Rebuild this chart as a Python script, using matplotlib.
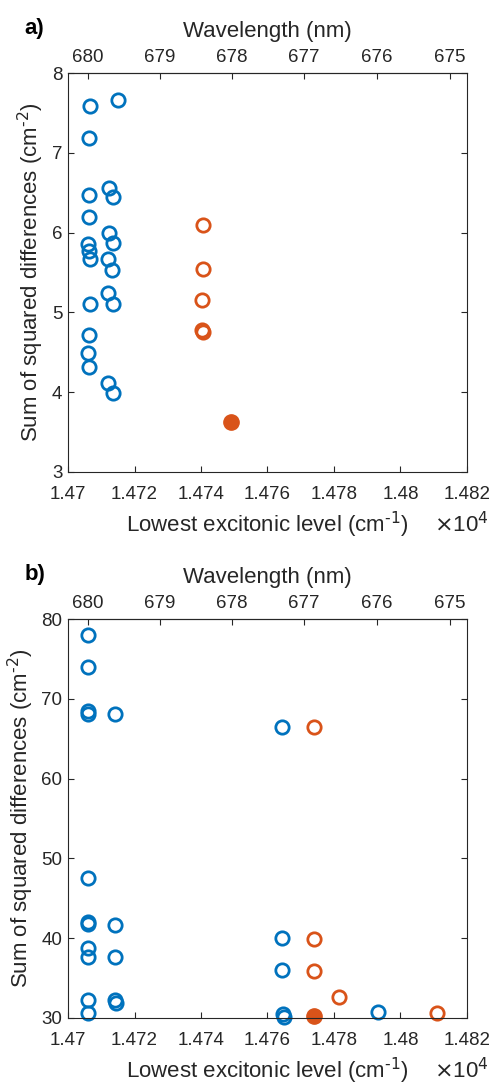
import matplotlib.pyplot as plt
from matplotlib.ticker import FixedLocator, FuncFormatter

plt.rcParams['font.family'] = ['Liberation Sans', 'DejaVu Sans']

# panel a data (x in cm^-1)
a_blue_x = [14706.6, 14714.9, 14706.4, 14712.2, 14706.4, 14713.6, 14706.3, 14712.2,
            14706.1, 14713.6, 14706.2, 14706.6, 14711.9, 14713.3, 14712.1, 14706.6,
            14713.5, 14706.4, 14705.9, 14706.3, 14712.1, 14713.5]
a_blue_y = [7.59, 7.66, 7.19, 6.56, 6.47, 6.45, 6.20, 6.00,
            5.86, 5.87, 5.77, 5.67, 5.67, 5.53, 5.24, 5.11,
            5.11, 4.72, 4.49, 4.32, 4.11, 3.99]
a_orange_x = [14740.5, 14740.6, 14740.4, 14740.4, 14740.5]
a_orange_y = [6.10, 5.54, 5.15, 4.78, 4.76]
a_best_x = [14748.9]
a_best_y = [3.63]

# panel b data
b_blue_x = [14705.9, 14705.9, 14705.9, 14706.1, 14714.2, 14705.9, 14705.9, 14706.1,
            14714.2, 14705.9, 14706.1, 14714.2, 14706.1, 14714.2, 14714.4, 14705.9,
            14764.5, 14764.5, 14764.5, 14764.7, 14765.0, 14793.3]
b_blue_y = [78.03, 73.97, 68.44, 68.15, 68.10, 47.59, 42.00, 41.77,
            41.70, 38.75, 37.70, 37.60, 32.26, 32.20, 31.90, 30.63,
            66.43, 40.00, 35.99, 30.46, 30.16, 30.72]
b_orange_x = [14774.0, 14774.0, 14774.0, 14781.6, 14811.1]
b_orange_y = [66.43, 39.95, 35.90, 32.60, 30.58]
b_best_x = [14774.0]
b_best_y = [30.25]

x_ticks = [14700, 14720, 14740, 14760, 14780, 14800, 14820]
wl_ticks = [680, 679, 678, 677, 676, 675]

blue = '#0072BD'
orange = '#D95319'
axcol = '#262626'

fig = plt.figure(figsize=(4.93, 10.84), dpi=100)

panels = [
    (0.138, 0.5646, 'a)', a_blue_x, a_blue_y, a_orange_x, a_orange_y, a_best_x, a_best_y,
     (3, 8), [3, 4, 5, 6, 7, 8]),
    (0.138, 0.0609, 'b)', b_blue_x, b_blue_y, b_orange_x, b_orange_y, b_best_x, b_best_y,
     (30, 80), [30, 40, 50, 60, 70, 80]),
]

for left, bottom, tag, bx, by, ox, oy, fx, fy, ylim, yt in panels:
    ax = fig.add_axes([left, bottom, 0.809, 0.368])
    ax.plot(bx, by, 'o', mfc='none', mec=blue, ms=9.6, mew=2.0, ls='none', clip_on=False)
    ax.plot(ox, oy, 'o', mfc='none', mec=orange, ms=9.6, mew=2.0, ls='none', clip_on=False)
    ax.plot(fx, fy, 'o', mfc=orange, mec=orange, ms=11, mew=1, ls='none', clip_on=False)
    ax.set_xlim(14700, 14820)
    ax.set_ylim(*ylim)
    ax.xaxis.set_major_locator(FixedLocator(x_ticks))
    ax.xaxis.set_major_formatter(FuncFormatter(lambda v, p: f"{v/1e4:g}"))
    ax.set_yticks(yt)
    ax.tick_params(direction='in', length=4, width=0.8, colors=axcol, labelsize=13.5,
                   top=False, right=True)
    ax.tick_params(axis='x', pad=10)
    ax.tick_params(axis='y', pad=4)
    for s in ax.spines.values():
        s.set_color(axcol)
        s.set_linewidth(0.8)
    ax.set_xlabel(r'Lowest excitonic level (cm$^{\text{-}1}$)', fontsize=16, color=axcol, labelpad=5)
    ax.set_ylabel(r'Sum of squared differences (cm$^{\text{-}2}$)', fontsize=16, color=axcol, labelpad=4)
    ax.text(0.985, -0.1325, r'$\times$10$^4$', transform=ax.transAxes, fontsize=16,
            color=axcol, ha='center', va='center')

    sec = ax.secondary_xaxis('top', functions=(lambda x: 1e7 / x, lambda w: 1e7 / w))
    sec.set_xticks(wl_ticks)
    sec.xaxis.set_major_formatter(FuncFormatter(lambda v, p: f"{v:.0f}"))
    sec.tick_params(direction='in', length=4, width=0.8, colors=axcol, labelsize=13.5, pad=5)
    sec.spines['top'].set_color(axcol)
    sec.set_xlabel('Wavelength (nm)', fontsize=16, color=axcol, labelpad=9)

    ax.text(-0.11, 1.112, tag, transform=ax.transAxes, fontsize=16, fontweight='bold',
            ha='left', va='center')

fig.savefig('out.png', dpi=100)
